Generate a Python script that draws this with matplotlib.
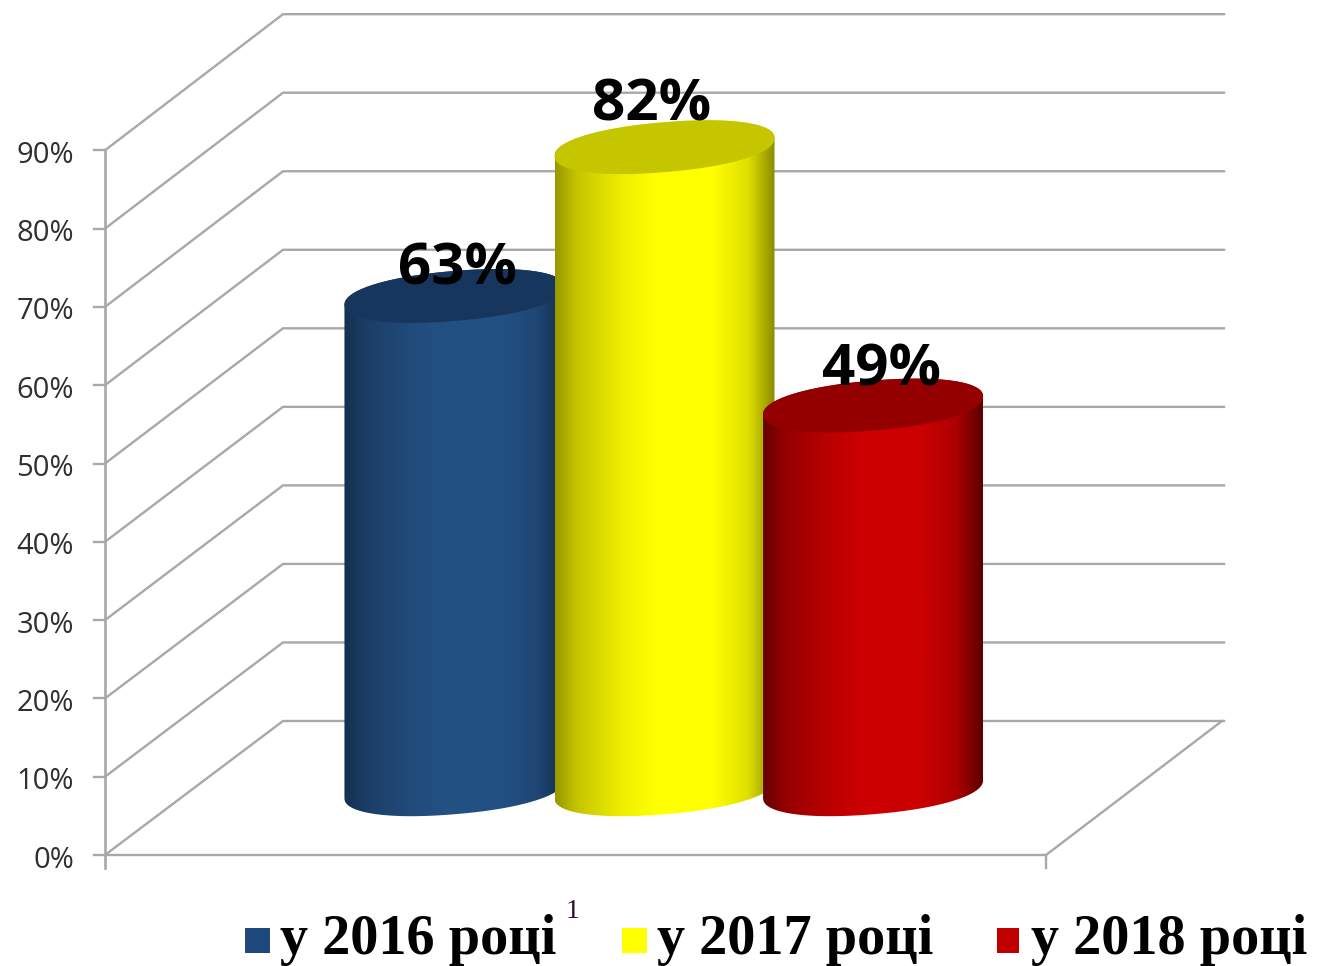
import numpy as np
from matplotlib import pyplot as plt
from matplotlib.colors import LinearSegmentedColormap, to_rgb
from matplotlib.patches import Polygon, Rectangle

# chart values
years = ['у 2016 році', 'у 2017 році', 'у 2018 році']
values = [63, 82, 49]
value_labels = ['63%', '82%', '49%']
tick_values = [0, 10, 20, 30, 40, 50, 60, 70, 80, 90]
tick_labels = ['0%', '10%', '20%', '30%', '40%', '50%', '60%', '70%', '80%', '90%']

# colours per bar: edge, middle, top of the cylinder
bar_shades = [('#142c4a', '#235083', '#17365d'),
              ('#8c8c00', '#ffff00', '#c6c600'),
              ('#5c0000', '#cc0000', '#940000')]
legend_colors = ['#1f497d', '#ffff00', '#c00000']
grid_color = '#a8a8a8'

# one unit on x = one bar slot, one unit on y = one percent
PX_X = 209.0
PX_Y = 7.83
X0_PX = 664.5
Y0_PX = 855.0
W, H = 1318, 966
BASE = 8.4


def px_x(x):
    return (x - X0_PX) / PX_X


def px_y(y):
    return (Y0_PX - y) / PX_Y


def mix(c1, c2, f):
    r1, r2 = np.array(to_rgb(c1)), np.array(to_rgb(c2))
    return tuple(r1 + (r2 - r1) * f)


def rim(cx, cy, t):
    # sheared superellipse, so the cylinder sides stay vertical
    a = 110 / PX_X
    b = 25 / PX_Y
    k = 9 / PX_Y
    c = np.sign(np.cos(t)) * np.abs(np.cos(t)) ** 0.92
    s = np.sign(np.sin(t)) * np.abs(np.sin(t)) ** 0.92
    return cx + a * c, cy + b * s + k * c


def cylinder(ax, cx, value, shades, order):
    top = BASE + value
    stops = [(0, 0.1), (0.1, 0.5), (0.3, 0.85), (0.45, 1), (0.72, 1), (0.88, 0.72), (1, 0)]
    cmap = LinearSegmentedColormap.from_list('bar', [(p, mix(shades[0], shades[1], f)) for p, f in stops])
    t_low = np.linspace(np.pi, 2 * np.pi, 80)
    t_up = np.linspace(0, np.pi, 80)
    bx, by = rim(cx, BASE, t_low)
    tx, ty = rim(cx, top, t_up)
    body = Polygon(np.column_stack([np.r_[bx, tx], np.r_[by, ty]]), closed=True,
                   transform=ax.transData, fc='none', ec='none')
    ax.add_patch(body)
    a = 110 / PX_X
    img = ax.imshow(np.linspace(0, 1, 256).reshape(1, -1), cmap=cmap, aspect='auto',
                    extent=[cx - a, cx + a, BASE - 5, top + 5], zorder=order, interpolation='bilinear')
    img.set_clip_path(body)
    ex, ey = rim(cx, top, np.linspace(0, 2 * np.pi, 160))
    ax.add_patch(Polygon(np.column_stack([ex, ey]), closed=True, fc=shades[2], ec='none', zorder=order + 0.1))


fig = plt.figure(figsize=(W / 100, H / 100), dpi=100)
ax = fig.add_axes([0, 0, 1, 1])

# walls and floor
wall_x = px_x(105)
back_x = px_x(283)
end_x = px_x(1224)
depth = 134 / PX_Y
for v in tick_values:
    ax.plot([wall_x, back_x, end_x], [v, v + depth + v * 0.003, v + depth + v * 0.003],
            color=grid_color, lw=1.7, solid_joinstyle='miter', zorder=1)
    ax.plot([px_x(94), wall_x], [v, v], color=grid_color, lw=1.7, zorder=1)
ax.plot([wall_x, px_x(1046), px_x(1222)], [0, 0, depth], color=grid_color, lw=1.7, zorder=1)
ax.plot([wall_x, wall_x], [px_y(868), 90], color=grid_color, lw=1.9, zorder=1)
ax.plot([px_x(1046), px_x(1046)], [0, px_y(868)], color=grid_color, lw=1.7, zorder=1)

for v, lab in zip(tick_values, tick_labels):
    ax.text(px_x(74), v - 0.65, lab, ha='right', va='center', fontsize=21,
            family='Open Sans', color='#303030')

# cylinders, later ones sit over the earlier ones
centers = [-1.005, 0.0, 0.998]
for i, (cx, val) in enumerate(zip(centers, values)):
    cylinder(ax, cx, val, bar_shades[i], 3 + i)

label_dx = [3, -13, 8]
label_dy = [26, 42, 35]
for cx, val, lab, dx, dy in zip(centers, values, value_labels, label_dx, label_dy):
    ax.text(cx + dx / PX_X, BASE + val + dy / PX_Y, lab, ha='center', va='center',
            fontsize=42, fontweight='bold', family='Open Sans', color='black', zorder=10)

# legend
square_x = [245, 622, 997]
square_w = [25, 25, 22]
text_x = [280, 657, 1031]
for sx, sw, tx, lab, col in zip(square_x, square_w, text_x, years, legend_colors):
    ax.add_patch(Rectangle((px_x(sx), px_y(953)), sw / PX_X, 25 / PX_Y, fc=col, ec='none'))
    ax.text(px_x(tx), px_y(954), lab, ha='left', va='baseline', fontsize=40.5,
            fontweight='bold', family='Liberation Serif', color='black')
ax.text(px_x(573), px_y(912), '1', ha='center', va='center', fontsize=20,
        family='Liberation Serif', color='#301030')

ax.set_xlim(px_x(0), px_x(W))
ax.set_ylim(px_y(H), px_y(0))
ax.axis('off')

fig.savefig('out.png', dpi=100, facecolor='white')
